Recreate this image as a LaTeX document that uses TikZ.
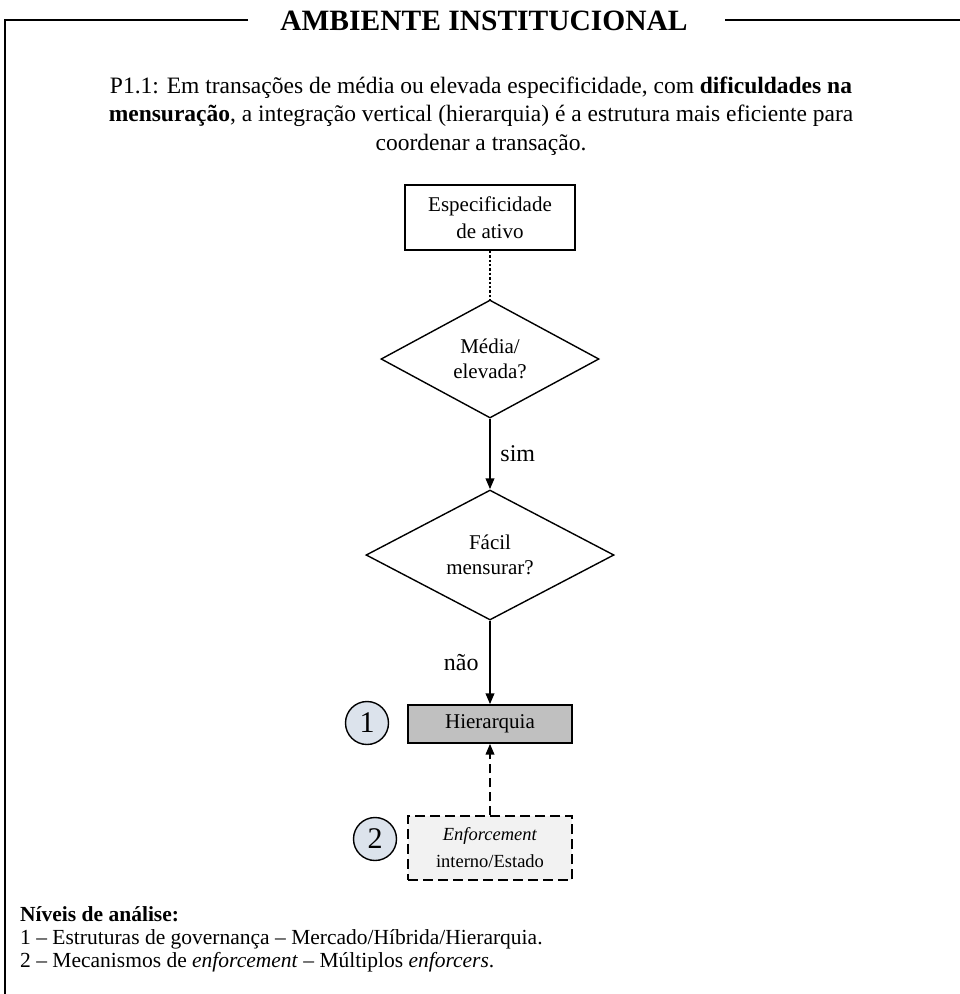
\documentclass[tikz,border=0pt]{standalone}
\usepackage{fontspec}
\setmainfont{Liberation Serif}
\usetikzlibrary{shapes.geometric,arrows.meta}
\definecolor{hiergray}{HTML}{C0C0C0}
\definecolor{enfgray}{HTML}{F2F2F2}
\definecolor{circfill}{HTML}{DCE3EC}
\tikzset{
  frame/.style={line width=1.6pt},
  procbox/.style={draw, line width=1.4pt, align=center, inner sep=0pt},
  decision/.style={draw, diamond, line width=1.4pt, align=center, inner sep=0pt, font=\fontsize{21}{25}\selectfont},
  flow/.style={line width=2.2pt, -{Triangle[length=11pt,width=8.5pt]}},
  levelmark/.style={draw, circle, line width=1.4pt, fill=circfill, minimum size=43pt, inner sep=0pt, font=\fontsize{30}{32}\selectfont},
  edgelabel/.style={font=\fontsize{24}{26}\selectfont},
  propline/.style={anchor=base, inner sep=0pt, font=\fontsize{23.5}{28}\selectfont},
  legendline/.style={anchor=base west, inner sep=0pt, font=\fontsize{21.5}{23}\selectfont}
}
\begin{document}
\begin{tikzpicture}[x=1pt,y=-1pt]
\useasboundingbox (0,0) rectangle (960,994);
% outer frame with a gap for the title
\draw[frame] (248,20) -- (5,20) -- (5,994);
\draw[frame] (725,20) -- (960,20);
\node[anchor=base, inner sep=0pt] (title) at (484,30) {\fontsize{29.5}{31}\selectfont\bfseries AMBIENTE INSTITUCIONAL};
% proposition
\node[propline] (prop1) at (481,93) {P1.1: Em transações de média ou elevada especificidade, com \textbf{dificuldades na}};
\node[propline] (prop2) at (481,121.5) {\textbf{mensuração}, a integração vertical (hierarquia) é a estrutura mais eficiente para};
\node[propline] (prop3) at (481,150) {coordenar a transação.};
% flow chart
\node[procbox, minimum width=170pt, minimum height=65pt, font=\fontsize{21}{27}\selectfont] (spec) at (490,217.5) {Especificidade\\de ativo};
\node[decision, minimum width=218pt, minimum height=118pt] (d1) at (490,359) {Média/\\elevada?};
\node[decision, minimum width=248pt, minimum height=130pt] (d2) at (490,555) {Fácil\\mensurar?};
\node[procbox, fill=hiergray, minimum width=164pt, minimum height=38pt, font=\fontsize{21}{24}\selectfont] (hier) at (490,724) {Hierarquia};
\node[procbox, fill=enfgray, dash pattern=on 10pt off 5pt, minimum width=164pt, minimum height=64pt, font=\fontsize{18.5}{27}\selectfont] (enf) at (490,848) {\textit{Enforcement}\\interno/Estado};
\node[levelmark] (c1) at (367,723) {1};
\node[levelmark] (c2) at (375,839) {2};
% connectors
\draw[line width=2.4pt, dotted] (spec.south) -- (d1.north);
\draw[flow] (d1.south) -- node[edgelabel, right=6pt] {sim} (d2.north);
\draw[flow] (d2.south) -- node[edgelabel, left=7pt, pos=0.5] {não} (hier.north);
\draw[flow, dash pattern=on 9pt off 5pt] (enf.north) -- (hier.south);
% legend
\node[legendline] (legendhead) at (20,921) {\textbf{Níveis de análise:}};
\node[legendline] (legendone) at (20,944) {1 – Estruturas de governança – Mercado/Híbrida/Hierarquia.};
\node[legendline] (legendtwo) at (20,967) {2 – Mecanismos de \textit{enforcement} – Múltiplos \textit{enforcers}.};
\end{tikzpicture}
\end{document}
